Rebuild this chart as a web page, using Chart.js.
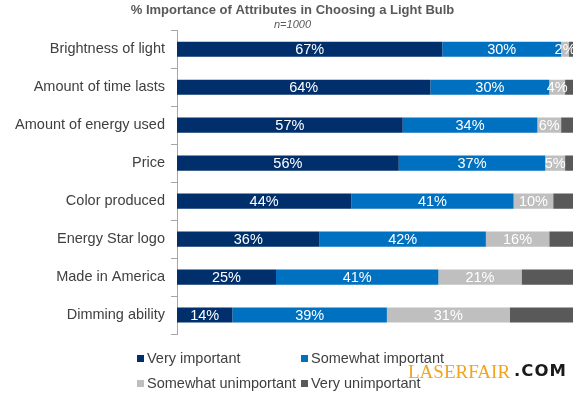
<!DOCTYPE html>
<html>
<head>
<meta charset="utf-8">
<script src="https://cdn.jsdelivr.net/npm/chart.js@4"></script>
<style>
    body { margin: 0; background: #fff; }
    .chart-container { position: relative; width: 580px; height: 395px; }
</style>
</head>
<body>
<div class="chart-container">
    <canvas id="bulbChart"></canvas>
</div>
<script>
const categories = ['Brightness of light', 'Amount of time lasts', 'Amount of energy used', 'Price',
    'Color produced', 'Energy Star logo', 'Made in America', 'Dimming ability'];
const seriesNames = ['Very important', 'Somewhat important', 'Somewhat unimportant', 'Very unimportant'];
const veryImportant = [67, 64, 57, 56, 44, 36, 25, 14];
const somewhatImportant = [30, 30, 34, 37, 41, 42, 41, 39];
const somewhatUnimportant = [2, 4, 6, 5, 10, 16, 21, 31];
const veryUnimportant = [1, 2, 3, 2, 5, 6, 13, 16];
const seriesColors = ['#002F6C', '#0070C0', '#BFBFBF', '#595959'];

const FONT = '"Liberation Sans", Arial, sans-serif';

// white % labels in the middle of each segment (last series has none)
const segmentLabels = {
    id: 'segmentLabels',
    afterDatasetsDraw(chart) {
        const ctx = chart.ctx;
        ctx.save();
        ctx.font = '14.5px ' + FONT;
        ctx.fillStyle = '#FFFFFF';
        ctx.textAlign = 'center';
        ctx.textBaseline = 'middle';
        chart.data.datasets.forEach((ds, i) => {
            if (i === 3) return;
            chart.getDatasetMeta(i).data.forEach((bar, j) => {
                const { x, base, y } = bar.getProps(['x', 'base', 'y'], true);
                ctx.fillText(ds.data[j] + '%', (x + base) / 2, y + 1);
            });
        });
        ctx.restore();
    }
};

// 2x2 legend under the plot plus the site mark
const gridLegend = {
    id: 'gridLegend',
    afterDraw(chart) {
        const ctx = chart.ctx;
        const slots = [[137, 358], [301, 358], [137, 383], [301, 383]];
        ctx.save();
        ctx.font = '14.5px ' + FONT;
        ctx.textBaseline = 'middle';
        ctx.textAlign = 'left';
        chart.data.datasets.forEach((ds, i) => {
            const [x, y] = slots[i];
            ctx.fillStyle = ds.backgroundColor;
            ctx.fillRect(x, y - 3, 7, 7);
            ctx.fillStyle = '#404040';
            ctx.fillText(ds.label, x + 10, y + 1);
        });

        ctx.font = '19px "Liberation Serif", "DejaVu Serif", serif';
        ctx.fillStyle = '#F2A41E';
        ctx.fillText('LASERFAIR', 408, 373);
        ctx.font = 'bold 16.5px "DejaVu Sans", sans-serif';
        ctx.letterSpacing = '1px';
        ctx.fillStyle = '#1A1A1A';
        ctx.fillText('.COM', 514, 372);
        ctx.restore();
    }
};

const ctx = document.getElementById('bulbChart');
new Chart(ctx, {
    type: 'bar',
    data: {
        labels: categories,
        datasets: [veryImportant, somewhatImportant, somewhatUnimportant, veryUnimportant].map((d, i) => ({
            label: seriesNames[i],
            data: d,
            backgroundColor: seriesColors[i],
            borderWidth: 0,
            barPercentage: 1,
            categoryPercentage: 0.4
        }))
    },
    options: {
        indexAxis: 'y',
        responsive: true,
        maintainAspectRatio: false,
        animation: false,
        layout: {
            padding: { top: 0, left: 12, right: 7, bottom: 61 }
        },
        scales: {
            x: {
                stacked: true,
                min: 0,
                max: 100,
                display: false
            },
            y: {
                stacked: true,
                afterFit: scale => { scale.width = 165; },
                grid: {
                    drawOnChartArea: false,
                    tickLength: 6,
                    color: '#A6A6A6'
                },
                border: { color: '#A6A6A6' },
                ticks: {
                    padding: 6,
                    color: '#404040',
                    font: { family: FONT, size: 14.5 }
                }
            }
        },
        plugins: {
            legend: { display: false },
            tooltip: { enabled: false },
            title: {
                display: true,
                text: '% Importance of Attributes in Choosing a Light Bulb',
                color: '#595959',
                font: { family: FONT, size: 13, weight: 'bold', lineHeight: 1.1 },
                padding: { top: 3, bottom: 0 }
            },
            subtitle: {
                display: true,
                text: 'n=1000',
                color: '#595959',
                font: { family: FONT, size: 11, style: 'italic', lineHeight: 1.0 },
                padding: { top: 2, bottom: 0 }
            }
        }
    },
    plugins: [segmentLabels, gridLegend]
});
</script>
</body>
</html>
